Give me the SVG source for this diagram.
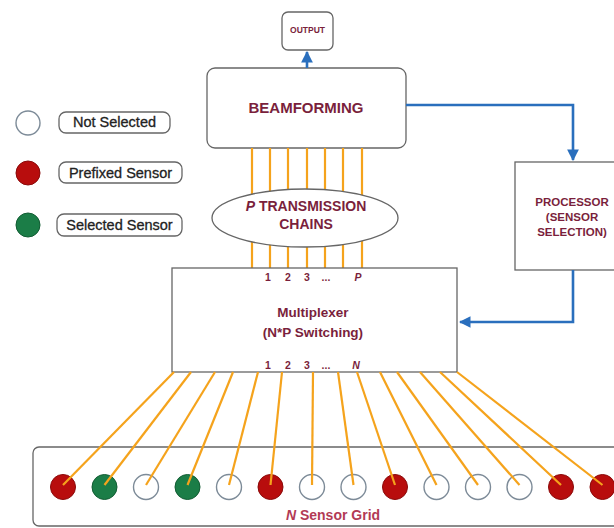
<svg xmlns="http://www.w3.org/2000/svg" width="614" height="528" viewBox="0 0 614 528">
<defs>
<style>
.box{fill:#fff;stroke:#666;stroke-width:1.3}
.lbl{font-family:"Liberation Sans",Arial,sans-serif;font-weight:bold;fill:#7a1f3c;text-anchor:middle}
.leg{font-family:"Liberation Sans",Arial,sans-serif;fill:#222;stroke:#222;stroke-width:0.3;font-size:14.5px}
.or{stroke:#f5a31c;stroke-width:2.2;fill:none}
.bl{stroke:#2a6fbd;stroke-width:2.6;fill:none}
.w{fill:#fff;stroke:#7d8b98;stroke-width:1.4}
.r{fill:#b80d0d;stroke:#8a0a0a;stroke-width:1}
.g{fill:#1b7d47;stroke:#125c33;stroke-width:1}
.num{font-family:"Liberation Sans",Arial,sans-serif;font-weight:bold;fill:#7a1f3c;font-size:10.5px;text-anchor:middle}
</style>
<marker id="ah" viewBox="0 0 10 10" refX="9" refY="5" markerWidth="4.5" markerHeight="4.5" orient="auto" markerUnits="strokeWidth">
<path d="M0,0 L10,5 L0,10 z" fill="#2a6fbd"/>
</marker>
</defs>
<rect width="614" height="528" fill="#fff"/>

<g id="legend">
<circle cx="28" cy="123" r="12" class="w"/>
<rect x="59" y="112" width="111" height="21" rx="7" class="box"/>
<text x="114.5" y="127" class="leg" text-anchor="middle">Not Selected</text>
<circle cx="28" cy="173" r="12" class="r"/>
<rect x="59" y="162" width="123" height="21" rx="7" class="box"/>
<text x="120.5" y="177.5" class="leg" text-anchor="middle">Prefixed Sensor</text>
<circle cx="28" cy="225" r="12" class="g"/>
<rect x="57" y="214" width="125" height="22" rx="7" class="box"/>
<text x="119.5" y="230" class="leg" text-anchor="middle">Selected Sensor</text>
</g>

<g id="output">
<rect x="282" y="12" width="51" height="38" rx="6" class="box"/>
<text x="307.5" y="33" class="lbl" font-size="8.5">OUTPUT</text>
</g>

<g id="beamforming">
<rect x="207" y="68" width="199" height="80" rx="8" class="box"/>
<text x="306" y="113" class="lbl" font-size="15">BEAMFORMING</text>
</g>

<g id="processor">
<rect x="515" y="162" width="110" height="108" class="box"/>
<text x="572" y="206" class="lbl" font-size="11.5">PROCESSOR</text>
<text x="572" y="221" class="lbl" font-size="11.5">(SENSOR</text>
<text x="572" y="235.5" class="lbl" font-size="11.5">SELECTION)</text>
</g>

<g id="connectors">
<g class="or">
<line x1="252" y1="148" x2="252" y2="268"/>
<line x1="270" y1="148" x2="270" y2="268"/>
<line x1="288" y1="148" x2="288" y2="268"/>
<line x1="307" y1="148" x2="307" y2="268"/>
<line x1="325" y1="148" x2="325" y2="268"/>
<line x1="343" y1="148" x2="343" y2="268"/>
<line x1="362" y1="148" x2="362" y2="268"/>
</g>
<path class="bl" d="M307,68 V52" marker-end="url(#ah)"/>
<path class="bl" d="M406,105 H573 V160" marker-end="url(#ah)"/>
<path class="bl" d="M573,270 V322 H460" marker-end="url(#ah)"/>
</g>

<g id="chains">
<ellipse cx="305" cy="218" rx="93" ry="29" class="box" stroke="#555"/>
<text x="306" y="211" class="lbl" font-size="14"><tspan font-style="italic">P</tspan> TRANSMISSION</text>
<text x="306" y="229" class="lbl" font-size="14">CHAINS</text>
</g>

<g id="multiplexer">
<rect x="172" y="268" width="285" height="104" class="box"/>
<text x="268" y="280.5" class="num">1</text>
<text x="288" y="280.5" class="num">2</text>
<text x="307" y="280.5" class="num">3</text>
<text x="326" y="280.5" class="num">...</text>
<text x="358" y="280.5" class="num" font-style="italic">P</text>
<text x="313" y="317" class="lbl" font-size="13.5">Multiplexer</text>
<text x="313" y="337" class="lbl" font-size="13.5">(N*P Switching)</text>
<text x="268" y="369" class="num">1</text>
<text x="288" y="369" class="num">2</text>
<text x="307" y="369" class="num">3</text>
<text x="326" y="369" class="num">...</text>
<text x="356" y="369" class="num" font-style="italic">N</text>
</g>

<g id="sensor-grid">
<rect x="33" y="447" width="600" height="79" rx="6" class="box"/>
<circle cx="63" cy="487" r="12.5" class="r"/>
<circle cx="104.5" cy="487" r="12.5" class="g"/>
<circle cx="146" cy="487" r="12.5" class="w"/>
<circle cx="187.5" cy="487" r="12.5" class="g"/>
<circle cx="229" cy="487" r="12.5" class="w"/>
<circle cx="270.5" cy="487" r="12.5" class="r"/>
<circle cx="312" cy="487" r="12.5" class="w"/>
<circle cx="353.5" cy="487" r="12.5" class="w"/>
<circle cx="395" cy="487" r="12.5" class="r"/>
<circle cx="436.5" cy="487" r="12.5" class="w"/>
<circle cx="478" cy="487" r="12.5" class="w"/>
<circle cx="519.5" cy="487" r="12.5" class="w"/>
<circle cx="561" cy="487" r="12.5" class="r"/>
<circle cx="602.5" cy="487" r="12.5" class="r"/>
<text x="333" y="520" font-family="Liberation Sans, Arial, sans-serif" font-weight="bold" font-size="14" fill="#b23a55" text-anchor="middle"><tspan font-style="italic">N</tspan> Sensor Grid</text>
</g>

<g id="grid-connectors" class="or">
<line x1="174" y1="372" x2="63" y2="485"/>
<line x1="191" y1="372" x2="104.5" y2="485"/>
<line x1="215" y1="372" x2="146" y2="485"/>
<line x1="233" y1="372" x2="187.5" y2="485"/>
<line x1="258" y1="372" x2="229" y2="485"/>
<line x1="282" y1="372" x2="270.5" y2="485"/>
<line x1="313" y1="372" x2="312" y2="485"/>
<line x1="338" y1="372" x2="353.5" y2="485"/>
<line x1="357" y1="372" x2="395" y2="485"/>
<line x1="380" y1="372" x2="436.5" y2="485"/>
<line x1="397" y1="372" x2="478" y2="485"/>
<line x1="420" y1="372" x2="519.5" y2="485"/>
<line x1="440" y1="372" x2="561" y2="485"/>
<line x1="457" y1="372" x2="602.5" y2="485"/>
</g>
</svg>
